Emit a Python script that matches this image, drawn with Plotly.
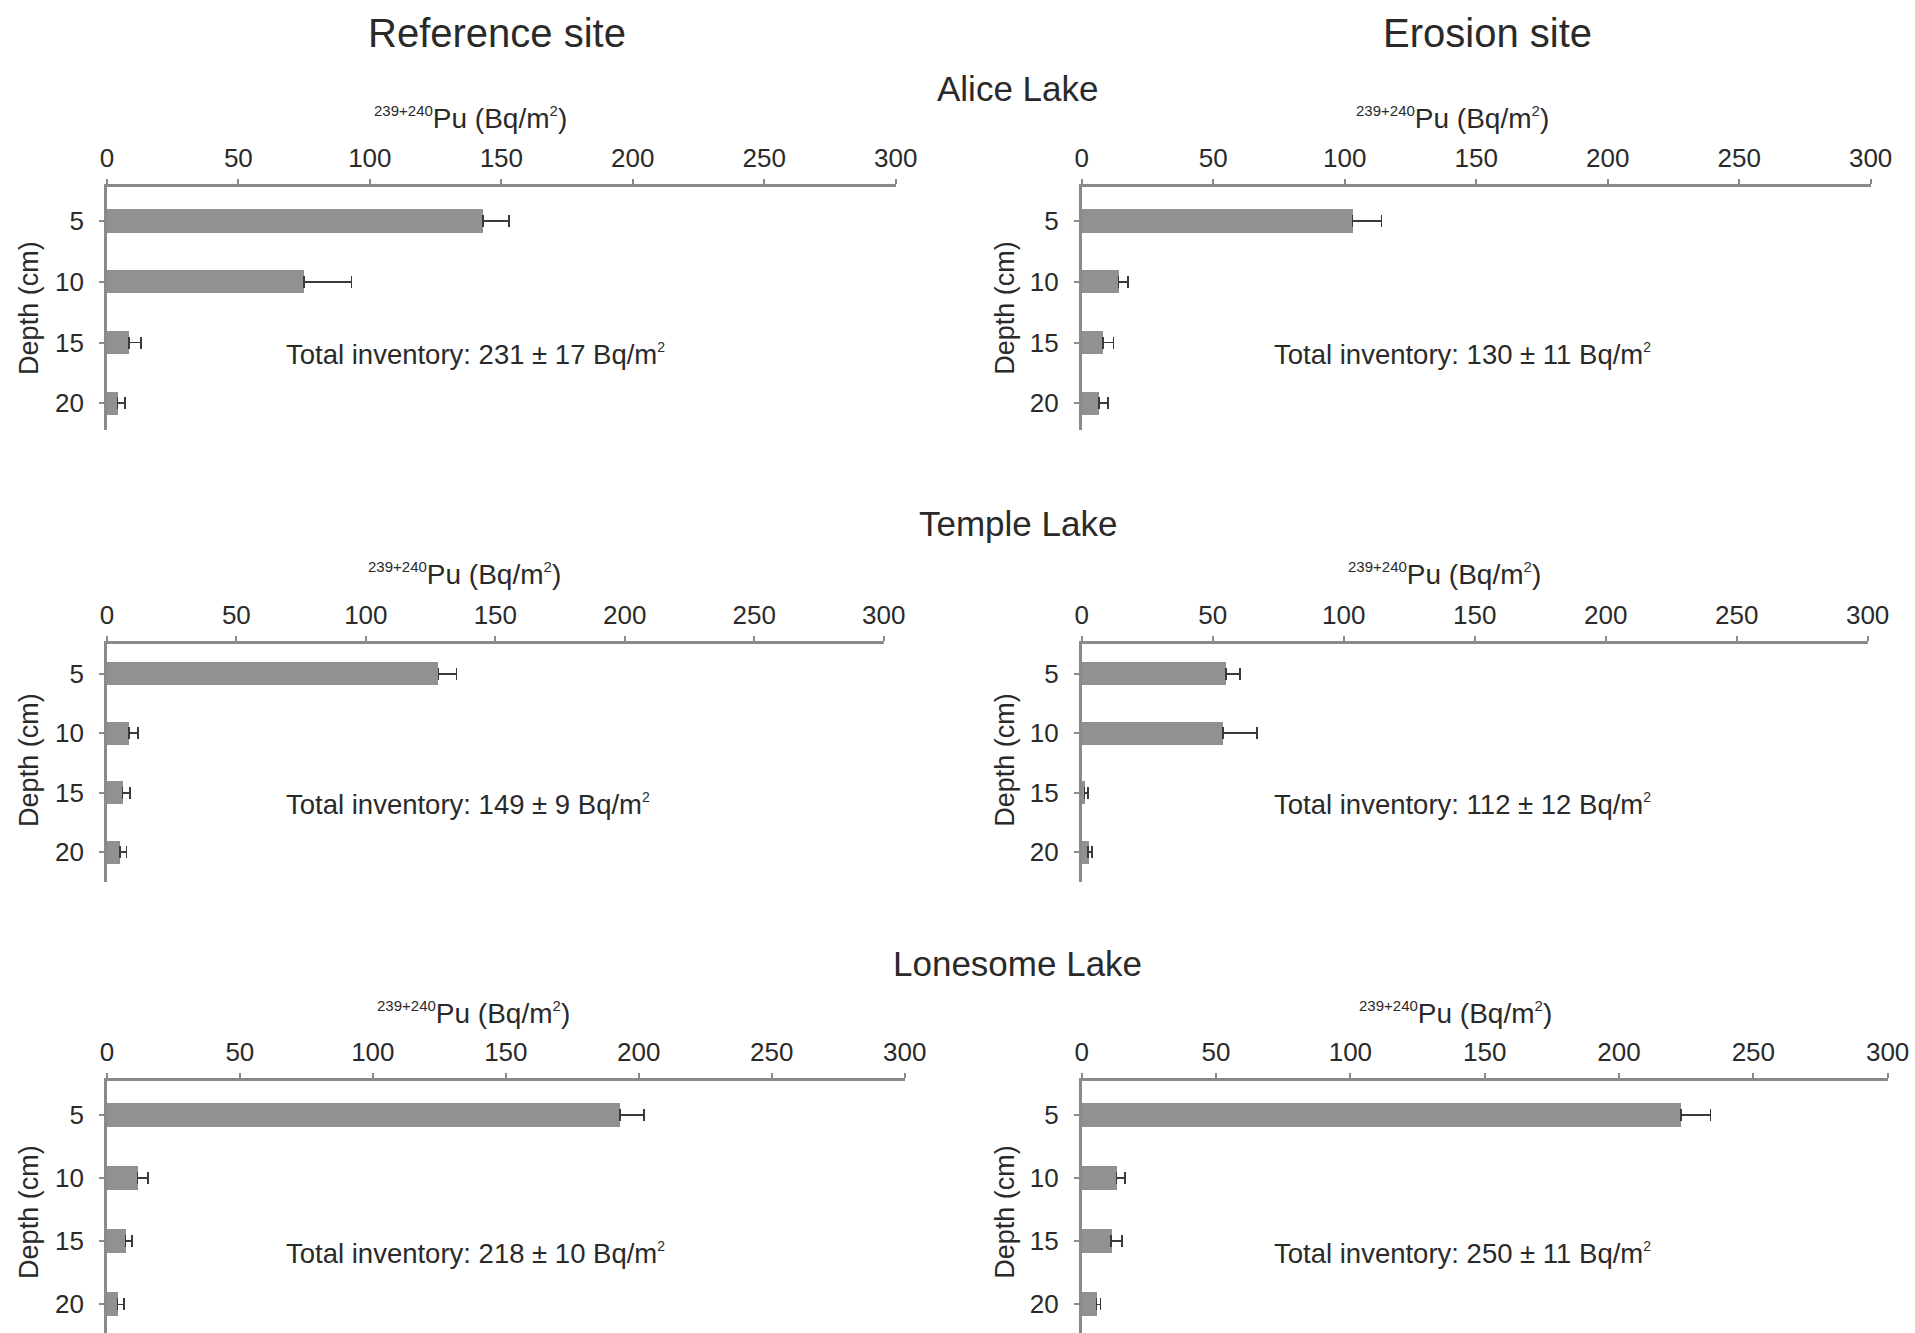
import plotly.graph_objects as go

W, H = 1915, 1333

depths = [5, 10, 15, 20]
lakes = ["Alice Lake", "Temple Lake", "Lonesome Lake"]
site_titles = ["Reference site", "Erosion site"]
x_ticks = [0, 50, 100, 150, 200, 250, 300]

alice_ref = [143, 75, 8.5, 4]
alice_ref_err = [10, 18, 4.5, 3]
alice_ero = [103, 14, 8, 6.5]
alice_ero_err = [11, 3.5, 4, 3.5]

temple_ref = [128, 8.5, 6, 5]
temple_ref_err = [7, 3.5, 3, 2.5]
temple_ero = [55, 54, 1, 2.5]
temple_ero_err = [5.5, 13, 1.5, 1.5]

lonesome_ref = [193, 11.5, 7, 4]
lonesome_ref_err = [9, 4, 2.5, 2.5]
lonesome_ero = [223, 13, 11, 5.5]
lonesome_ero_err = [11, 3, 4, 1.5]

totals = [
    ["231 ± 17", "130 ± 11"],
    ["149 ± 9", "112 ± 12"],
    ["218 ± 10", "250 ± 11"],
]

series = [
    [(alice_ref, alice_ref_err), (alice_ero, alice_ero_err)],
    [(temple_ref, temple_ref_err), (temple_ero, temple_ero_err)],
    [(lonesome_ref, lonesome_ref_err), (lonesome_ero, lonesome_ero_err)],
]


def P(x):
    # horizontal pixel -> paper fraction (compensates the observed render squeeze)
    return ((x - 6.1) / 0.985) / W


# panel geometry in pixels
px_x = [
    [(106, 895), (1081, 1870)],
    [(106, 883), (1081, 1867)],
    [(106, 904), (1081, 1887)],
]
px_y = [(187, 430), (644, 882), (1081, 1333)]
y_ranges = [[22.2, 2.2], [22.5, 2.5], [22.27, 2.3]]
lake_title_y = [88, 523, 963]
axis_title_y = [118, 574, 1013]
axis_title_x = [[470, 1452], [464, 1444], [473, 1455]]
depth_title_y = [308, 760, 1212]
depth_title_x = [28, 1004]
total_x = [283, 1271]

BAR = "#919191"
TXT = "#2a2a2a"
AX = "#8a8a8a"
FONT = "Liberation Sans, Arial, sans-serif"
SUP = '<sup><span style="font-size:{}px">{}</span></sup>'

fig = go.Figure()
annotations = []
n = 0
for r in range(3):
    for c in range(2):
        n += 1
        xa = "x" if n == 1 else f"x{n}"
        ya = "y" if n == 1 else f"y{n}"
        vals, errs = series[r][c]
        fig.add_trace(go.Bar(
            x=vals, y=depths, orientation="h", width=1.9,
            marker=dict(color=BAR, line=dict(width=0)),
            error_x=dict(type="data", array=errs, arrayminus=[0] * len(errs),
                         symmetric=False, color="#3a3a3a", thickness=1.6, width=6),
            xaxis=xa, yaxis=ya, showlegend=False,
        ))
        x0, x1 = px_x[r][c]
        t, b = px_y[r]
        xd = [P(x0), P(x1)]
        yd = [max(0, 1 - b / H), 1 - t / H]
        fig.layout[("xaxis" if n == 1 else f"xaxis{n}")] = dict(
            domain=xd, range=[0, 300], side="top", anchor=ya,
            tickvals=x_ticks, ticks="outside", ticklen=5, tickwidth=1.5, tickcolor=AX,
            ticklabelstandoff=2,
            showline=True, linecolor=AX, linewidth=2.5, showgrid=False, zeroline=False,
            tickfont=dict(size=26, color=TXT, family=FONT), fixedrange=True,
        )
        fig.layout[("yaxis" if n == 1 else f"yaxis{n}")] = dict(
            domain=yd, range=y_ranges[r], anchor=xa,
            tickvals=depths, ticks="outside", ticklen=5, tickwidth=1.5, tickcolor=AX,
            ticklabelstandoff=10,
            showline=True, linecolor=AX, linewidth=2.5, showgrid=False, zeroline=False,
            tickfont=dict(size=26, color=TXT, family=FONT), fixedrange=True,
        )
        # x axis title
        annotations.append(dict(
            text=SUP.format(15, "239+240") + "Pu (Bq/m" + SUP.format(15, "2") + ")",
            xref="paper", yref="paper",
            x=P(axis_title_x[r][c]), y=1 - axis_title_y[r] / H,
            showarrow=False, font=dict(size=28, color=TXT, family=FONT),
            xanchor="center", yanchor="middle",
        ))
        # y axis title
        annotations.append(dict(
            text="Depth (cm)", xref="paper", yref="paper",
            x=P(depth_title_x[c]), y=1 - depth_title_y[r] / H,
            textangle=-90, showarrow=False, font=dict(size=27, color=TXT, family=FONT),
            xanchor="center", yanchor="middle",
        ))
        # total inventory
        annotations.append(dict(
            text=f"Total inventory: {totals[r][c]} Bq/m" + SUP.format(14, "2"),
            xref="paper", yref=ya, x=P(total_x[c]), y=16.0,
            xanchor="left", yanchor="middle",
            showarrow=False, font=dict(size=27.5, color=TXT, family=FONT),
        ))

for r, name in enumerate(lakes):
    annotations.append(dict(
        text=name, xref="paper", yref="paper", x=P(1017), y=1 - lake_title_y[r] / H,
        showarrow=False, font=dict(size=35, color=TXT, family=FONT),
        xanchor="center", yanchor="middle",
    ))

for c, name in enumerate(site_titles):
    annotations.append(dict(
        text=name, xref="paper", yref="paper", x=P([496, 1487][c]), y=1 - 33 / H,
        showarrow=False, font=dict(size=40, color=TXT, family=FONT),
        xanchor="center", yanchor="middle",
    ))

fig.update_layout(
    width=W, height=H, margin=dict(l=0, r=0, t=0, b=0),
    paper_bgcolor="white", plot_bgcolor="white",
    annotations=annotations, bargap=0,
)

fig.write_html("out.html")
